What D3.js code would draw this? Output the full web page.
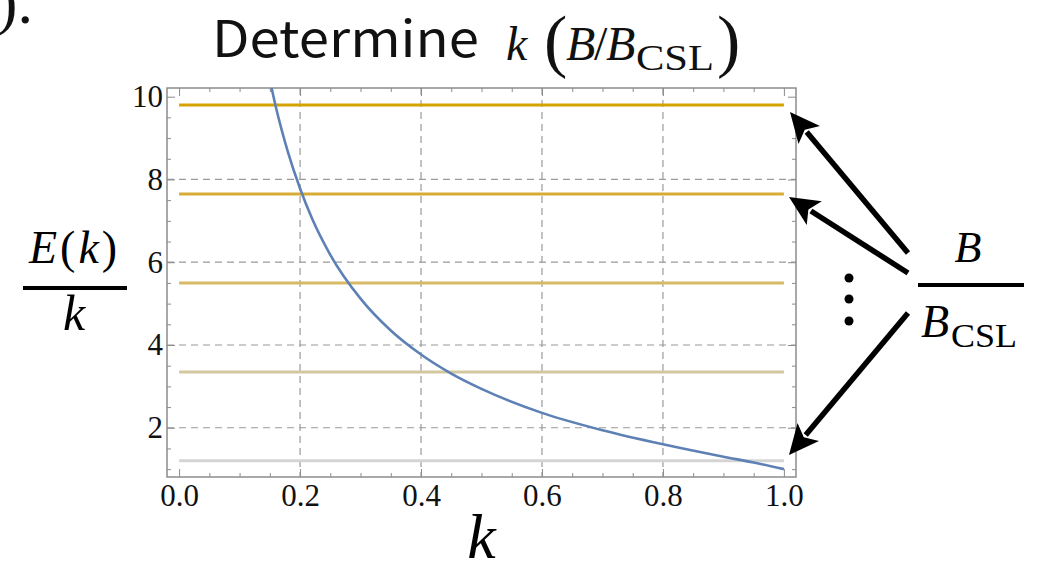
<!DOCTYPE html>
<html>
<head>
<meta charset="utf-8">
<script src="https://cdn.jsdelivr.net/npm/d3@7"></script>
<style>
  body { margin: 0; background: #fff; }
  svg { display: block; }
</style>
</head>
<body>
<div id="drawing"></div>
<script>
const width = 1042;
const height = 562;

// blue curve E(k)/k
const curveK = [0.15, 0.16, 0.18, 0.2, 0.22, 0.25, 0.3, 0.35, 0.4, 0.45, 0.5, 0.6, 0.7, 0.8, 0.9, 0.95, 1.0];
const curveVal = [10.41, 9.75, 8.66, 7.78, 7.05, 6.18, 5.12, 4.35, 3.77, 3.31, 2.94, 2.36, 1.94, 1.60, 1.30, 1.16, 1.00];

// horizontal B/B_CSL levels, top to bottom
const levels = [9.8, 7.65, 5.5, 3.35, 1.2];
const levelColors = ["#D6A200", "#D7AB35", "#D8B966", "#D3C7A0", "#D4D4D4"];

const xTicks = [0.0, 0.2, 0.4, 0.6, 0.8, 1.0];
const yTicks = [2, 4, 6, 8, 10];
const xGrid = [0.2, 0.4, 0.6, 0.8];
const yGrid = [2, 4, 6, 8];

const frame = {left: 167, right: 796, top: 88, bottom: 477};
const serif = "'Liberation Serif', 'Times New Roman', serif";

const svg = d3.select("#drawing").append("svg")
  .attr("width", width)
  .attr("height", height);

const x = d3.scaleLinear().domain([-0.02, 1.02]).range([frame.left, frame.right]);
const y = d3.scaleLinear().domain([0.81, 10.21]).range([frame.bottom, frame.top]);

svg.append("defs").append("clipPath").attr("id", "plotClip")
  .append("rect")
  .attr("x", frame.left).attr("y", frame.top)
  .attr("width", frame.right - frame.left).attr("height", frame.bottom - frame.top);

// grid lines
svg.append("g").selectAll("line.vg")
  .data(xGrid).enter().append("line")
  .attr("x1", d => x(d)).attr("x2", d => x(d))
  .attr("y1", frame.top).attr("y2", frame.bottom)
  .style("stroke", "#9a9a9a").style("stroke-width", 1.2).style("stroke-dasharray", "7,5");
svg.append("g").selectAll("line.hg")
  .data(yGrid).enter().append("line")
  .attr("x1", frame.left).attr("x2", frame.right)
  .attr("y1", d => y(d)).attr("y2", d => y(d))
  .style("stroke", "#9a9a9a").style("stroke-width", 1.2).style("stroke-dasharray", "7,5");

// axes with inward ticks on all four sides
const minorX = d3.range(0, 1.0001, 0.05).filter(v => xTicks.every(t => Math.abs(t - v) > 1e-6));
const minorY = d3.range(1, 10.001, 0.5).filter(v => yTicks.every(t => Math.abs(t - v) > 1e-6));

function styleAxis(g) {
  g.attr("font-size", null).attr("font-family", null);
  g.select(".domain").remove();
  g.selectAll(".tick line").style("stroke", "#8c8c8c").style("stroke-width", 1);
  g.selectAll(".tick text").style("font-family", serif).style("font-size", "31px").style("fill", "#111");
}

svg.append("g").attr("transform", `translate(0,${frame.bottom})`)
  .call(d3.axisBottom(x).tickValues(xTicks).tickSize(-8).tickPadding(7).tickFormat(d3.format(".1f")))
  .call(styleAxis);
svg.append("g").attr("transform", `translate(0,${frame.bottom})`)
  .call(d3.axisBottom(x).tickValues(minorX).tickSize(-4).tickFormat(""))
  .call(styleAxis);
svg.append("g").attr("transform", `translate(0,${frame.top})`)
  .call(d3.axisTop(x).tickValues(xTicks).tickSize(-8).tickFormat(""))
  .call(styleAxis);
svg.append("g").attr("transform", `translate(0,${frame.top})`)
  .call(d3.axisTop(x).tickValues(minorX).tickSize(-4).tickFormat(""))
  .call(styleAxis);
svg.append("g").attr("transform", `translate(${frame.left},0)`)
  .call(d3.axisLeft(y).tickValues(yTicks).tickSize(-8).tickPadding(4).tickFormat(d3.format("d")))
  .call(styleAxis);
svg.append("g").attr("transform", `translate(${frame.left},0)`)
  .call(d3.axisLeft(y).tickValues(minorY).tickSize(-4).tickFormat(""))
  .call(styleAxis);
svg.append("g").attr("transform", `translate(${frame.right},0)`)
  .call(d3.axisRight(y).tickValues(yTicks).tickSize(-8).tickFormat(""))
  .call(styleAxis);
svg.append("g").attr("transform", `translate(${frame.right},0)`)
  .call(d3.axisRight(y).tickValues(minorY).tickSize(-4).tickFormat(""))
  .call(styleAxis);

// frame
svg.append("rect")
  .attr("x", frame.left).attr("y", frame.top)
  .attr("width", frame.right - frame.left).attr("height", frame.bottom - frame.top)
  .style("fill", "none").style("stroke", "#8c8c8c").style("stroke-width", 1.5);

// horizontal levels
svg.append("g").selectAll("line.level")
  .data(levels).enter().append("line")
  .attr("x1", x(0)).attr("x2", x(1))
  .attr("y1", d => y(d)).attr("y2", d => y(d))
  .style("stroke", (d, i) => levelColors[i]).style("stroke-width", 3);

// blue curve
const curveData = curveK.map((k, i) => ({k: k, v: curveVal[i]}));
svg.append("path")
  .datum(curveData)
  .attr("clip-path", "url(#plotClip)")
  .attr("d", d3.line().x(d => x(d.k)).y(d => y(d.v)).curve(d3.curveMonotoneX))
  .style("fill", "none").style("stroke", "#5E81B5").style("stroke-width", 2.6);

// title
svg.append("text")
  .attr("x", 212).attr("y", 57)
  .attr("textLength", 267).attr("lengthAdjust", "spacingAndGlyphs")
  .style("font-family", "'Noto Sans CJK JP', 'DejaVu Sans', sans-serif")
  .style("font-size", "50px").style("fill", "#111")
  .text("Determine");
const mathTitle = [
  {t: "k", x: 506, y: 60, s: 48, it: true},
  {t: "(", x: 544, y: 64, s: 70, it: false},
  {t: "B", x: 566, y: 60, s: 48, it: true},
  {t: "/", x: 594, y: 60, s: 48, it: false},
  {t: "B", x: 606, y: 60, s: 48, it: true},
  {t: ")", x: 717, y: 64, s: 70, it: false}
];
svg.append("g").selectAll("text")
  .data(mathTitle).enter().append("text")
  .attr("x", d => d.x).attr("y", d => d.y)
  .style("font-family", serif)
  .style("font-style", d => d.it ? "italic" : "normal")
  .style("font-size", d => d.s + "px").style("fill", "#111")
  .text(d => d.t);
svg.append("text")
  .attr("x", 636).attr("y", 70)
  .attr("textLength", 78).attr("lengthAdjust", "spacingAndGlyphs")
  .style("font-family", serif).style("font-size", "36px").style("fill", "#111")
  .text("CSL");

// cut-off panel label in the corner
svg.append("text")
  .attr("x", 33).attr("y", 23).attr("text-anchor", "end")
  .style("font-family", serif).style("font-size", "62px").style("fill", "#111")
  .text("(b).");

// y label E(k)/k
const eLabel = svg.append("text")
  .attr("x", 29).attr("y", 263)
  .style("font-family", serif).style("font-size", "46px")
  .style("letter-spacing", "3px");
eLabel.append("tspan").style("font-style", "italic").text("E");
eLabel.append("tspan").text("(");
eLabel.append("tspan").style("font-style", "italic").text("k");
eLabel.append("tspan").text(")");
svg.append("line")
  .attr("x1", 23).attr("x2", 127).attr("y1", 288).attr("y2", 288)
  .style("stroke", "#000").style("stroke-width", 4);
svg.append("text")
  .attr("x", 74).attr("y", 330).attr("text-anchor", "middle")
  .style("font-family", serif).style("font-style", "italic").style("font-size", "50px")
  .text("k");

// x label
svg.append("text")
  .attr("x", x(0.5)).attr("y", 558).attr("text-anchor", "middle")
  .style("font-family", serif).style("font-style", "italic").style("font-size", "64px")
  .text("k");

// B / B_CSL annotation on the right
svg.append("text")
  .attr("x", 968).attr("y", 262).attr("text-anchor", "middle")
  .style("font-family", serif).style("font-style", "italic").style("font-size", "44px")
  .text("B");
svg.append("line")
  .attr("x1", 918).attr("x2", 1024).attr("y1", 285).attr("y2", 285)
  .style("stroke", "#000").style("stroke-width", 4);
svg.append("text")
  .attr("x", 921).attr("y", 337)
  .style("font-family", serif).style("font-style", "italic").style("font-size", "46px")
  .text("B");
svg.append("text")
  .attr("x", 951).attr("y", 347)
  .attr("textLength", 66).attr("lengthAdjust", "spacingAndGlyphs")
  .style("font-family", serif).style("font-size", "33px")
  .text("CSL");

// vertical ellipsis
svg.append("g").selectAll("circle")
  .data([278, 299, 321]).enter().append("circle")
  .attr("cx", 849).attr("cy", d => d).attr("r", 4.5)
  .style("fill", "#000");

// arrows from the fraction to the levels
const arrows = [
  {from: [908, 253], to: [790, 112]},
  {from: [908, 273], to: [789, 197]},
  {from: [908, 313], to: [789, 455]}
];
const headLen = 30, headHalf = 14;
arrows.forEach(a => {
  const dx = a.to[0] - a.from[0], dy = a.to[1] - a.from[1];
  const len = Math.hypot(dx, dy);
  const ux = dx / len, uy = dy / len;
  const bx = a.to[0] - ux * headLen, by = a.to[1] - uy * headLen;
  svg.append("line")
    .attr("x1", a.from[0]).attr("y1", a.from[1])
    .attr("x2", bx + ux * 4).attr("y2", by + uy * 4)
    .style("stroke", "#000").style("stroke-width", 5.5);
  svg.append("polygon")
    .attr("points", [
      a.to,
      [bx - uy * headHalf, by + ux * headHalf],
      [bx + ux * 7, by + uy * 7],
      [bx + uy * headHalf, by - ux * headHalf]
    ].map(p => p.join(",")).join(" "))
    .style("fill", "#000");
});
</script>
</body>
</html>
